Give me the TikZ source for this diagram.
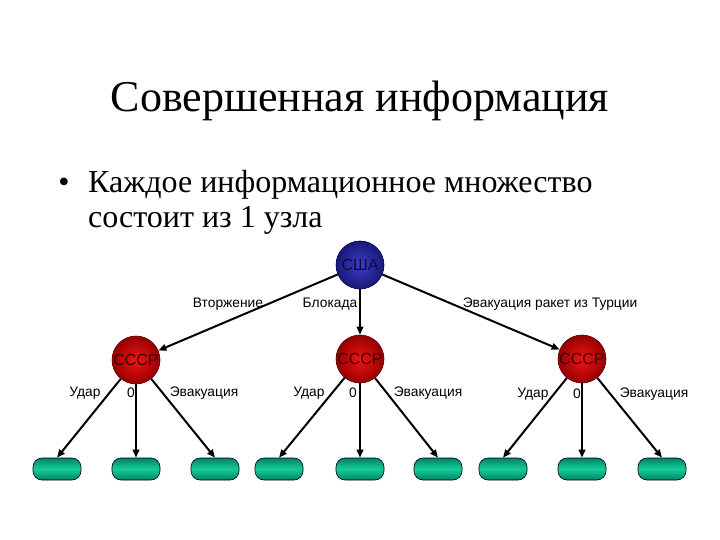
\documentclass[tikz,border=0pt]{standalone}
\usepackage{fontspec}
\setmainfont{Liberation Serif}
\newfontfamily\arialf{Liberation Sans}
\usetikzlibrary{arrows.meta}
\begin{document}
\begin{tikzpicture}[x=1pt,y=-1pt,
  ussr/.style={circle,minimum size=48pt,inner sep=0pt,draw=red!35!black,line width=0.6pt,
    inner color={rgb,255:red,240;green,20;blue,20},outer color={rgb,255:red,150;green,0;blue,0},
    font=\arialf\fontsize{16}{16}\selectfont,text={rgb,255:red,60;green,0;blue,0}},
  usa/.style={circle,minimum size=48pt,inner sep=0pt,draw=blue!30!black,line width=0.6pt,
    inner color={rgb,255:red,60;green,60;blue,200},outer color={rgb,255:red,25;green,25;blue,120},
    font=\arialf\fontsize{16}{16}\selectfont,text={rgb,255:red,10;green,10;blue,60}},
  leaf/.style={rounded corners=9pt,minimum width=48pt,minimum height=22pt,inner sep=0pt,draw=black,line width=0.6pt,
    top color={rgb,255:red,0;green,130;blue,100},bottom color={rgb,255:red,0;green,130;blue,100},
    middle color={rgb,255:red,20;green,205;blue,155}},
  lbl/.style={font=\arialf\fontsize{13.8}{15}\selectfont,inner sep=0pt},
  edge/.style={line width=2pt,-{Triangle[length=8pt,width=6.5pt]}}]
\useasboundingbox[fill=white] (0,0) rectangle (720,540);

% title and bullet
\node[anchor=base,font=\fontsize{44}{50}\selectfont,inner sep=0pt] (title) at (360,112) {Совершенная информация};
\node[anchor=base,font=\fontsize{32}{36}\selectfont,inner sep=0pt] (bullet) at (64,193) {•};
\node[anchor=base west,font=\fontsize{32}{36}\selectfont,inner sep=0pt] (line1) at (88,193) {Каждое информационное множество};
\node[anchor=base west,font=\fontsize{32}{36}\selectfont,inner sep=0pt] (line2) at (88,228) {состоит из 1 узла};

% nodes
\node[usa] (usa) at (360,265) {США};
\node[ussr] (s1) at (136,360) {СССР};
\node[ussr] (s2) at (360,359) {СССР};
\node[ussr] (s3) at (582,359) {СССР};

\foreach \i/\x in {1/57,2/136,3/215,4/279,5/360,6/438,7/503,8/582,9/662}{
  \node[leaf] (l\i) at (\x,469) {};
}

% edges
\draw[edge] (usa) -- (s1);
\draw[edge] (usa) -- (s2);
\draw[edge] (usa) -- (s3);
\draw[edge] (s1) -- (l1.north);
\draw[edge] (s1) -- (l2.north);
\draw[edge] (s1) -- (l3.north);
\draw[edge] (s2) -- (l4.north);
\draw[edge] (s2) -- (l5.north);
\draw[edge] (s2) -- (l6.north);
\draw[edge] (s3) -- (l7.north);
\draw[edge] (s3) -- (l8.north);
\draw[edge] (s3) -- (l9.north);

% labels
\node[lbl] (a1) at (228,304) {Вторжение};
\node[lbl] (a2) at (330,304) {Блокада};
\node[lbl] (a3) at (550,304) {Эвакуация ракет из Турции};

\node[lbl] (b1) at (85,393) {Удар};
\node[lbl] (b2) at (131,393) {0};
\node[lbl] (b3) at (204,393) {Эвакуация};
\node[lbl] (b4) at (309,393) {Удар};
\node[lbl] (b5) at (353,393) {0};
\node[lbl] (b6) at (428,393) {Эвакуация};
\node[lbl] (b7) at (533,394) {Удар};
\node[lbl] (b8) at (577,394) {0};
\node[lbl] (b9) at (654,394) {Эвакуация};
\end{tikzpicture}
\end{document}
